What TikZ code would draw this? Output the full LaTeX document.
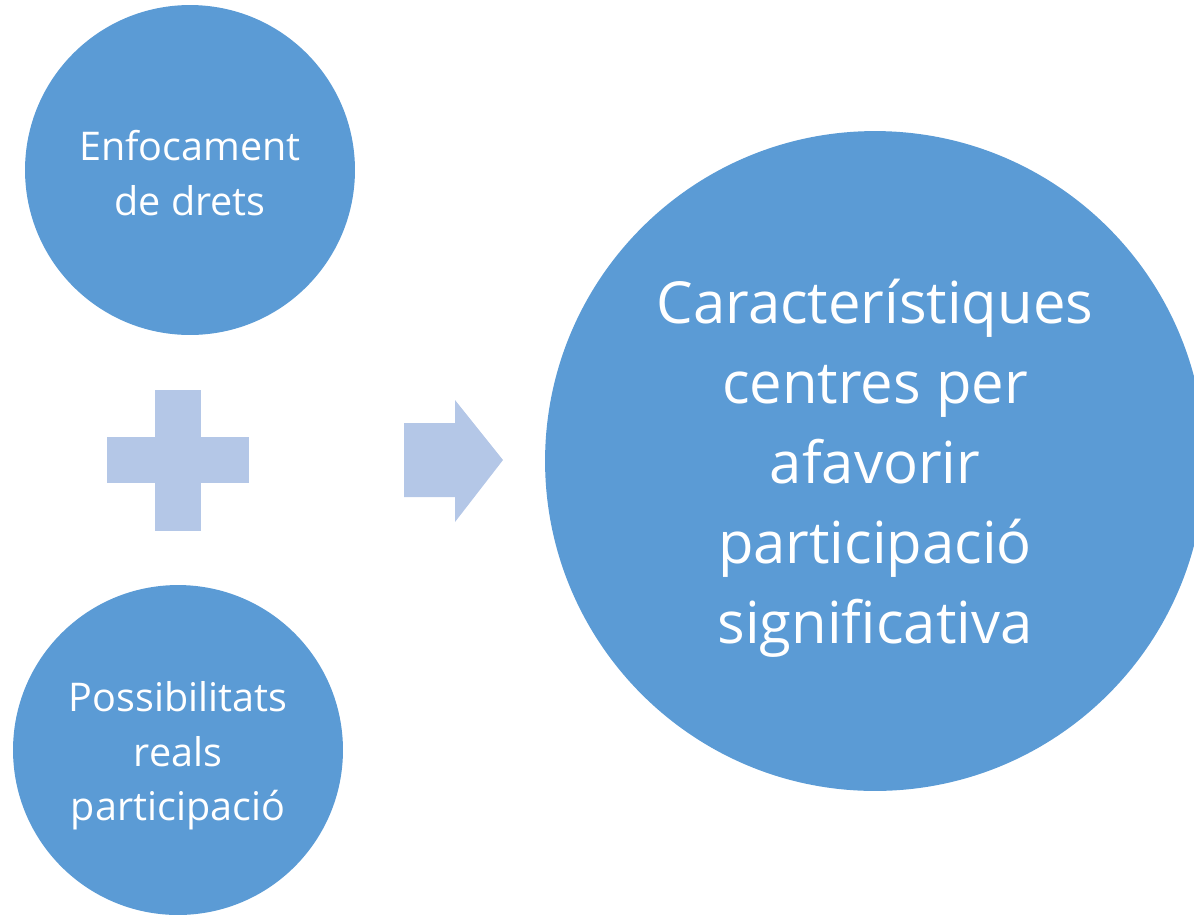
\documentclass[tikz,border=0pt]{standalone}
\usepackage{fontspec}
\setmainfont{Open Sans}
\definecolor{bolla}{HTML}{5B9BD5}
\definecolor{segno}{HTML}{B4C7E7}
\tikzset{
  bolla/.style={circle, fill=bolla, inner sep=0pt},
  scritta/.style={text=white, align=center, inner sep=0pt},
}
\begin{document}
\begin{tikzpicture}[x=0.02cm, y=-0.02cm]

    \useasboundingbox (0,0) rectangle (1194,914);
    \clip (0,0) rectangle (1194,914);

    % Cerchi a sinistra
    \node[bolla, minimum size=6.6cm] (drets) at (190,170) {};
    \node[scritta, font=\fontsize{22.5}{31}\selectfont, yshift=-0.06cm] (dretstxt) at (drets)
        {Enfocament\\de drets};
    \node[bolla, minimum size=6.6cm] (reals) at (178,750) {};
    \node[scritta, font=\fontsize{22.5}{31}\selectfont, yshift=-0.12cm] (realstxt) at (reals)
        {Possibilitats\\reals\\participació};

    % Segno piu
    \fill[segno] (107,437) rectangle (249,483);
    \fill[segno] (155,390) rectangle (201,531);

    % Freccia
    \fill[segno] (404,423) -- (455,423) -- (455,400) -- (503,460) -- (455,522)
        -- (455,497) -- (404,497) -- cycle;

    % Cerchio grande
    \node[bolla, minimum size=13.2cm] (caract) at (875,461) {};
    \node[scritta, font=\fontsize{33}{45.5}\selectfont, yshift=-0.15cm] (caracttxt) at (caract)
        {Característiques\\centres per\\afavorir\\participació\\significativa};

\end{tikzpicture}
\end{document}
